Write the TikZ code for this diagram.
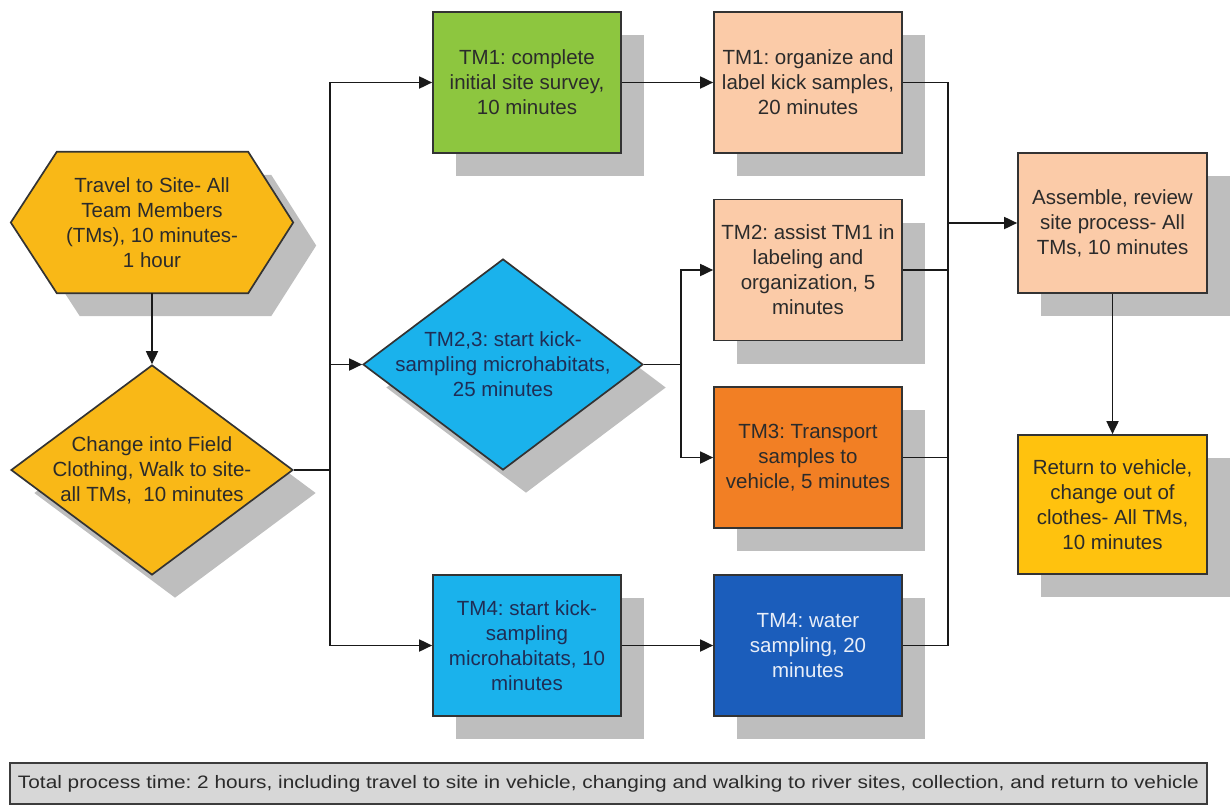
\documentclass[tikz,border=0pt]{standalone}
\usepackage{fontspec}
\setmainfont{Liberation Sans}
\usepackage{tikz}
\usetikzlibrary{positioning}
\usetikzlibrary{shapes.geometric, arrows.meta}
\usetikzlibrary{calc, shadows, backgrounds}
\definecolor{goldfill}{HTML}{F9B817}
\definecolor{surveygreen}{HTML}{8DC63F}
\definecolor{peach}{HTML}{FBCBA8}
\definecolor{transportorange}{HTML}{F27F24}
\definecolor{kickblue}{HTML}{1AB2EC}
\definecolor{waterblue}{HTML}{1B5DBB}
\definecolor{returngold}{HTML}{FFC20E}
\definecolor{shadowgray}{HTML}{BEBEBE}
\definecolor{edgegray}{HTML}{333333}
\definecolor{textgray}{HTML}{2B2B2B}
\definecolor{navytext}{HTML}{1F2D55}
\definecolor{watertext}{HTML}{E8EEF8}
\definecolor{footergray}{HTML}{D7D7D7}
\definecolor{footeredge}{HTML}{3C3C3C}
\frenchspacing
\newcommand{\boxfont}{\fontsize{20.5}{25}\selectfont}
\tikzstyle{flowline}=[line width=1.8pt, black!90]
\tikzstyle{flowarrow}=[flowline, -{Triangle[length=13pt,width=12pt]}]
\tikzstyle{boxshadow}=[drop shadow={shadow xshift=23pt,shadow yshift=-23pt,fill=shadowgray,opacity=1}]
\tikzstyle{inlabel}=[align=center, font=\boxfont, text=textgray]
\tikzstyle{taskbox}=[rectangle, draw=edgegray, line width=1.7pt, minimum width=188pt, minimum height=141pt, inner sep=2pt, inlabel, boxshadow]
\tikzstyle{decision}=[diamond, draw=edgegray, line width=1.7pt, inner sep=0pt, boxshadow]

\begin{document}
\begin{tikzpicture}[x=1pt, y=-1pt]
		\useasboundingbox (0,0) rectangle (1231,806);
		% left column
		\node[inlabel, minimum width=282pt, minimum height=141pt] (travel) at (152,222.5) {Travel to Site- All\\Team Members\\(TMs), 10 minutes-\\1 hour};
		\begin{scope}[on background layer]
			\draw[fill=goldfill, draw=edgegray, line width=1.7pt, boxshadow]
				(travel.west)--($(travel.north west)+(46,0)$)--($(travel.north east)+(-45,0)$)--
				(travel.east)--($(travel.south east)+(-45,0)$)--($(travel.south west)+(46,0)$)--cycle;
		\end{scope}
		\node[decision, fill=goldfill, minimum width=282pt, minimum height=210pt] (change) at (152,470) {};
		\node[inlabel] (changetext) at (change) {Change into Field\\Clothing, Walk to site-\\all TMs,\ \ 10 minutes};
		% first split
		\node[taskbox, fill=surveygreen] (survey) at (527,82.5) {TM1: complete\\initial site survey,\\10 minutes};
		\node[decision, fill=kickblue, minimum width=280pt, minimum height=211pt] (kick) at (503,364.5) {};
		\node[inlabel, text=navytext] (kicktext) at (kick) {TM2,3: start kick-\\sampling microhabitats,\\25 minutes};
		\node[taskbox, fill=kickblue, text=navytext] (kickfour) at (527,645.5) {TM4: start kick-\\sampling\\microhabitats, 10\\minutes};
		% second column
		\node[taskbox, fill=peach] (organize) at (808,82.5) {TM1: organize and\\label kick samples,\\20 minutes};
		\node[taskbox, fill=peach] (assist) at (808,270) {TM2: assist TM1 in\\labeling and\\organization, 5\\minutes};
		\node[taskbox, fill=transportorange] (transport) at (808,457.5) {TM3: Transport\\samples to\\vehicle, 5 minutes};
		\node[taskbox, fill=waterblue, text=watertext] (water) at (808,645.5) {TM4: water\\sampling, 20\\minutes};
		% right column
		\node[taskbox, fill=peach, minimum width=189pt, minimum height=140pt] (assemble) at (1112.5,223) {Assemble, review\\site process- All\\TMs, 10 minutes};
		\node[taskbox, fill=returngold, minimum width=189pt, minimum height=139pt] (vehicle) at (1112.5,504.5) {Return to vehicle,\\change out of\\clothes- All TMs,\\10 minutes};
		% footer
		\node[draw=footeredge, fill=footergray, line width=1.7pt, minimum width=1197pt, minimum height=41pt, inner sep=0pt, text=textgray] (total) at (608.5,783.5)
			{\fontsize{18}{21}\selectfont\resizebox{1181pt}{\height}{Total process time: 2 hours, including travel to site in vehicle, changing and walking to river sites, collection, and return to vehicle}};
		% connectors
		\coordinate (lsplit) at (330,0);
		\coordinate (msplit) at (681,0);
		\coordinate (rmerge) at (948,0);
		\draw[flowarrow] (travel.south)--(change.north);
		\draw[flowline] (change.east)--(lsplit |- change.east);
		\draw[flowarrow] (lsplit |- change.east) |- (survey.west);
		\draw[flowarrow] (lsplit |- change.east) |- (kickfour.west);
		\draw[flowarrow] (lsplit |- kick.west)--(kick.west);
		\draw[flowarrow] (survey.east)--(organize.west);
		\draw[flowarrow] (kickfour.east)--(water.west);
		\draw[flowline] (kick.east)--(msplit |- kick.east);
		\foreach \n in {assist,transport} {
			\draw[flowarrow] (msplit |- kick.east) |- (\n.west);}
		\draw[flowline] (organize.east) -| (rmerge |- water.east)--(water.east);
		\foreach \n in {assist,transport} {
			\draw[flowline] (\n.east)--(rmerge |- \n.east);}
		\draw[flowarrow] (rmerge |- assemble.west)--(assemble.west);
		\draw[flowarrow] (assemble.south)--(vehicle.north);
\end{tikzpicture}
\end{document}
